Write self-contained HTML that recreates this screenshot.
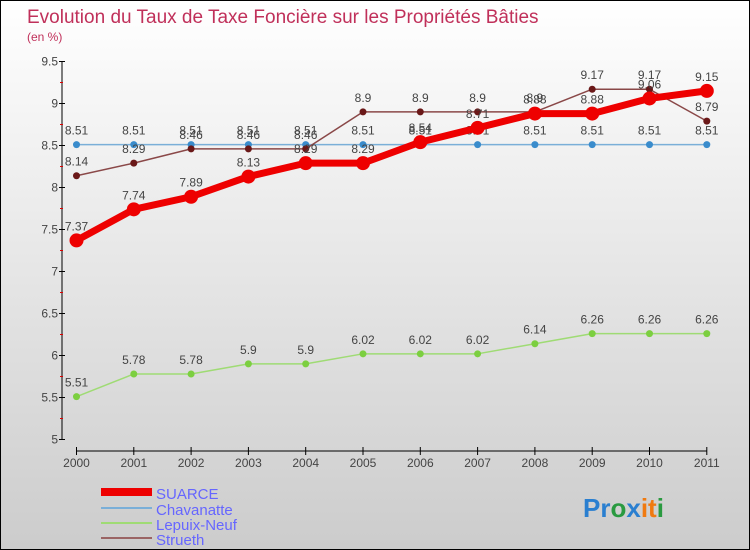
<!DOCTYPE html>
<html><head><meta charset="utf-8"><style>
body{margin:0}
#c{width:748px;height:548px;border:1px solid #000;background:linear-gradient(#fff,#ccc);position:relative;overflow:hidden;font-family:"Liberation Sans",sans-serif}
</style></head><body>
<div id="c">
<svg width="748" height="548" id="s" style="position:absolute;left:0;top:0">
<text x="26" y="22" font-size="19" fill="#c0305a">Evolution du Taux de Taxe Foncière sur les Propriétés Bâties</text>
<text x="26" y="40" font-size="12" fill="#c0305a">(en %)</text>
<g id="axes"></g><g id="series"></g>
<g>
<line x1="100" y1="491" x2="151" y2="491" stroke="#e00" stroke-width="8"/>
<text x="155" y="498" font-size="15" fill="#66f">SUARCE</text>
<line x1="100" y1="507" x2="151" y2="507" stroke="#7aafd8" stroke-width="2"/>
<text x="155" y="514" font-size="15" fill="#66f">Chavanatte</text>
<line x1="100" y1="522" x2="151" y2="522" stroke="#9fdb74" stroke-width="2"/>
<text x="155" y="529" font-size="15" fill="#66f">Lepuix-Neuf</text>
<line x1="100" y1="537" x2="151" y2="537" stroke="#9a6464" stroke-width="2"/>
<text x="155" y="544" font-size="15" fill="#66f">Strueth</text>
</g>
<g font-size="26" font-weight="bold"><text x="582" y="516"><tspan fill="#2a7fd0">Pr</tspan><tspan fill="#2a9a40">o</tspan><tspan fill="#2a7fd0">x</tspan><tspan fill="#f07a10">it</tspan><tspan fill="#2a9a40">i</tspan></text></g>
</svg>
</div>
<script>
const years=[2000,2001,2002,2003,2004,2005,2006,2007,2008,2009,2010,2011];
const suarce=[7.37,7.74,7.89,8.13,8.29,8.29,8.54,8.71,8.88,8.88,9.06,9.15];
const chavanatte=[8.51,8.51,8.51,8.51,8.51,8.51,8.51,8.51,8.51,8.51,8.51,8.51];
const lepuix=[5.51,5.78,5.78,5.9,5.9,6.02,6.02,6.02,6.14,6.26,6.26,6.26];
const strueth=[8.14,8.29,8.46,8.46,8.46,8.9,8.9,8.9,8.9,9.17,9.17,8.79];
const yTicks=[5,5.5,6,6.5,7,7.5,8,8.5,9,9.5];
const NS="http://www.w3.org/2000/svg";
function X(i){return 75.5+i*57.3}
function Y(v){return 438.5-(v-5)*84}
function mk(t,a,p){const e=document.createElementNS(NS,t);for(const k in a)e.setAttribute(k,a[k]);p.appendChild(e);return e}
const ax=document.getElementById('axes'),sg=document.getElementById('series');
let yl=mk('line',{x1:61,y1:Y(9.5),x2:61,y2:Y(5),stroke:'#000','stroke-width':1},ax);


yTicks.forEach(v=>{
 mk('line',{x1:58,y1:Y(v),x2:64,y2:Y(v),stroke:'#000'},ax);
 if(v<9.5)mk('line',{x1:59,y1:Y(v+0.25),x2:62,y2:Y(v+0.25),stroke:'#d00'},ax);
 const t=mk('text',{x:57,y:Y(v)+4,'text-anchor':'end','font-size':12,fill:'#444'},ax);t.textContent=v;
 
 
});
let xl=mk('line',{x1:X(0),y1:450,x2:X(11),y2:450,stroke:'#000'},ax);


years.forEach((y,i)=>{
 mk('line',{x1:X(i),y1:446,x2:X(i),y2:454,stroke:'#000'},ax);
 const t=mk('text',{x:X(i),y:466,'text-anchor':'middle','font-size':12,fill:'#444'},ax);t.textContent=y;
 
 
});
function series(d,name,col,w,r,dot){
 const g=mk('g',{},sg);
 
 
 const p=mk('polyline',{points:d.map((v,i)=>X(i)+','+Y(v)).join(' '),fill:'none',stroke:col,'stroke-width':w,'stroke-linejoin':'round'},g);
 
 
 d.forEach((v,i)=>{
  const c=mk('circle',{cx:X(i),cy:Y(v),r:r,fill:dot},g);
  
  
  const t=mk('text',{x:X(i),y:Y(v)-10,'text-anchor':'middle','font-size':12,fill:'#444'},g);t.textContent=v;
  
  
 });
}
series(lepuix,'lepuix-neuf','#9fdb74',1.5,3.5,'#7ccf40');
series(chavanatte,'chavanatte','#7aafd8',1.5,3.5,'#3a8ccc');
series(strueth,'strueth','#8a4848',1.5,3.5,'#6a1818');
series(suarce,'suarce','#ee0000',7,7,'#ee0000');
</script>
</body></html>
